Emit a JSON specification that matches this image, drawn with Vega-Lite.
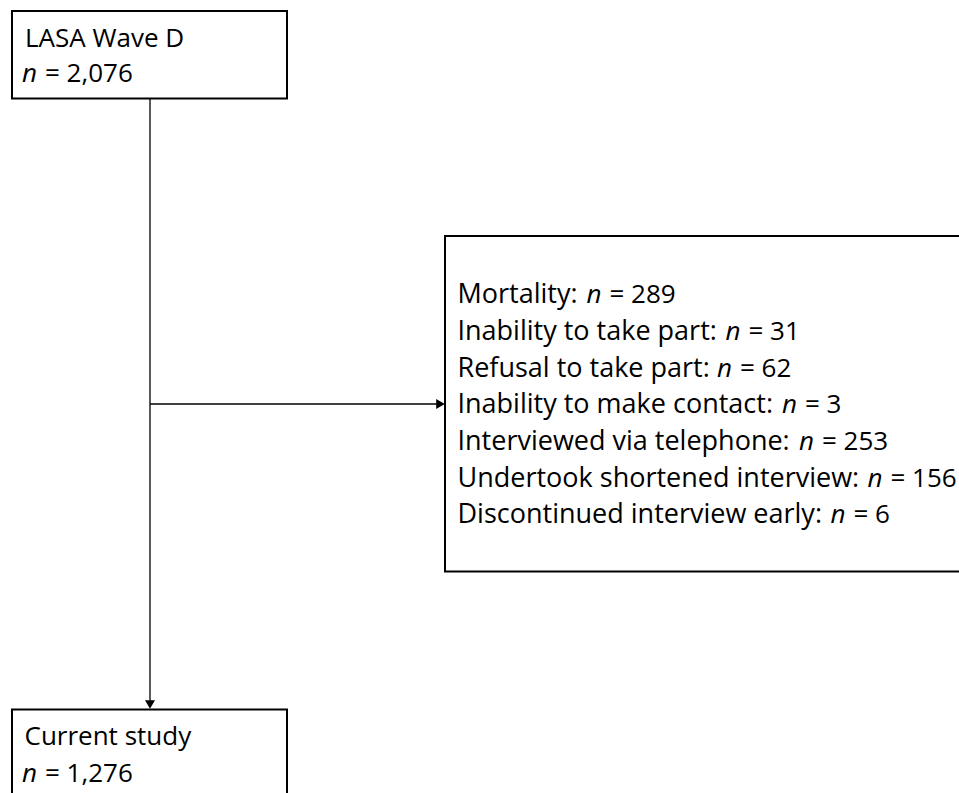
{
  "$schema": "https://vega.github.io/schema/vega-lite/v6.json",
  "width": 959,
  "height": 793,
  "padding": 0,
  "autosize": {"type": "fit", "contains": "padding"},
  "background": "white",
  "config": {"view": {"stroke": null}},
  "datasets": {
    "boxes": [
      {"name": "LASA Wave D", "x": 12, "x2": 287, "y": 11, "y2": 98.5},
      {"name": "Exclusions", "x": 445, "x2": 975, "y": 236, "y2": 571.5},
      {"name": "Current study", "x": 12, "x2": 287, "y": 709.5, "y2": 805}
    ],
    "links": [
      {"x": 150, "y": 98.5, "x2": 150, "y2": 702},
      {"x": 150, "y": 404, "x2": 437, "y2": 404}
    ],
    "heads": [
      {"x": 150, "y": 704.5, "shape": "triangle-down"},
      {"x": 440.5, "y": 404, "shape": "triangle-right"}
    ],
    "titles": [
      {"text": "LASA Wave D", "x": 25, "y": 46.5},
      {"text": "Current study", "x": 24.5, "y": 745}
    ],
    "counts": [
      {"pre": "", "px": 25, "nx": 22, "suf": "= 2,076", "y": 81.5},
      {"pre": "", "px": 25, "nx": 22, "suf": "= 1,276", "y": 781.5},
      {"pre": "Mortality:", "px": 457.5, "nx": 586.5, "suf": "= 289", "y": 303.3},
      {"pre": "Inability to take part:", "px": 457.5, "nx": 725.5, "suf": "= 31", "y": 340},
      {"pre": "Refusal to take part:", "px": 457.5, "nx": 717, "suf": "= 62", "y": 376.7},
      {"pre": "Inability to make contact:", "px": 457.5, "nx": 782, "suf": "= 3", "y": 413.3},
      {"pre": "Interviewed via telephone:", "px": 457.5, "nx": 799, "suf": "= 253", "y": 450},
      {"pre": "Undertook shortened interview:", "px": 457.5, "nx": 867.5, "suf": "= 156", "y": 486.7},
      {"pre": "Discontinued interview early:", "px": 457.5, "nx": 830.5, "suf": "= 6", "y": 523.3}
    ]
  },
  "encoding": {
    "x": {"type": "quantitative", "scale": {"domain": [0, 959], "nice": false, "zero": false}, "axis": null},
    "y": {"type": "quantitative", "scale": {"domain": [0, 793], "nice": false, "zero": false, "reverse": true}, "axis": null}
  },
  "layer": [
    {
      "data": {"name": "boxes"},
      "mark": {"type": "rect", "fill": "white", "stroke": "#000", "strokeWidth": 2, "clip": true},
      "encoding": {
        "x": {"field": "x", "type": "quantitative"},
        "x2": {"field": "x2"},
        "y": {"field": "y", "type": "quantitative"},
        "y2": {"field": "y2"}
      }
    },
    {
      "data": {"name": "links"},
      "mark": {"type": "rule", "stroke": "#000", "strokeWidth": 1.3},
      "encoding": {
        "x": {"field": "x", "type": "quantitative"},
        "x2": {"field": "x2"},
        "y": {"field": "y", "type": "quantitative"},
        "y2": {"field": "y2"}
      }
    },
    {
      "data": {"name": "heads"},
      "mark": {"type": "point", "filled": true, "color": "#000", "opacity": 1, "size": 100},
      "encoding": {
        "x": {"field": "x", "type": "quantitative"},
        "y": {"field": "y", "type": "quantitative"},
        "shape": {"field": "shape", "type": "nominal", "scale": null}
      }
    },
    {
      "data": {"name": "titles"},
      "mark": {"type": "text", "align": "left", "baseline": "alphabetic", "font": "Open Sans", "fontSize": 26, "color": "#000"},
      "encoding": {
        "x": {"field": "x", "type": "quantitative"},
        "y": {"field": "y", "type": "quantitative"},
        "text": {"field": "text"}
      }
    },
    {
      "data": {"name": "counts"},
      "mark": {"type": "text", "align": "left", "baseline": "alphabetic", "font": "Open Sans", "fontSize": 27, "color": "#000"},
      "encoding": {
        "x": {"field": "px", "type": "quantitative"},
        "y": {"field": "y", "type": "quantitative"},
        "text": {"field": "pre"}
      }
    },
    {
      "data": {"name": "counts"},
      "mark": {"type": "text", "align": "left", "baseline": "alphabetic", "font": "Open Sans", "fontSize": 26, "fontStyle": "italic", "color": "#000"},
      "encoding": {
        "x": {"field": "nx", "type": "quantitative"},
        "y": {"field": "y", "type": "quantitative"},
        "text": {"value": "n"}
      }
    },
    {
      "data": {"name": "counts"},
      "mark": {"type": "text", "align": "left", "baseline": "alphabetic", "font": "Open Sans", "fontSize": 26, "color": "#000", "dx": 23},
      "encoding": {
        "x": {"field": "nx", "type": "quantitative"},
        "y": {"field": "y", "type": "quantitative"},
        "text": {"field": "suf"}
      }
    }
  ]
}
